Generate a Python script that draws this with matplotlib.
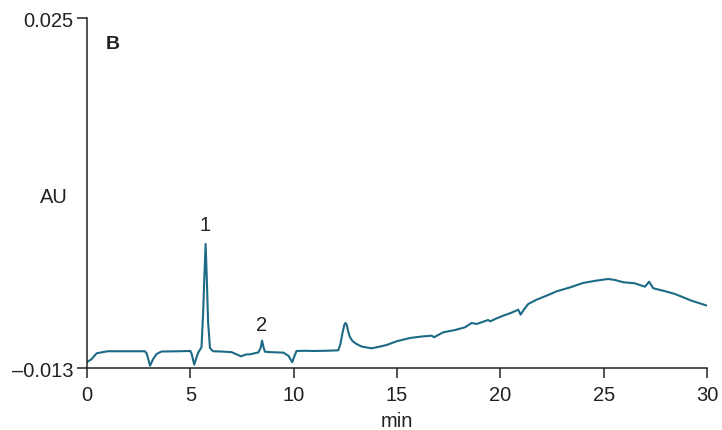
#!/usr/bin/env python3
"""Chromatogram panel B: absorbance (AU) vs retention time (min)."""
import matplotlib
matplotlib.use("Agg")
import matplotlib.pyplot as plt

# trace, (time in min, absorbance in AU)
time_min = [
    0.0, 0.2, 0.47, 1.0, 2.0, 2.8, 2.89, 3.05, 3.2, 3.37, 3.6, 4.5, 5.0, 5.06,
    5.19, 5.3, 5.39, 5.54, 5.62, 5.68, 5.74, 5.80, 5.86, 5.95, 6.1, 6.5, 7.0,
    7.2, 7.45, 7.7, 7.89, 8.29, 8.40, 8.47, 8.54, 8.61, 8.9, 9.5, 9.75, 9.93,
    10.05, 10.14, 10.5, 11.0, 11.5, 12.16, 12.26, 12.36, 12.45, 12.51, 12.57,
    12.65, 12.72, 12.85, 13.04, 13.3, 13.77, 14.17, 14.5, 14.98, 15.63, 16.2,
    16.68, 16.79, 17.24, 17.8, 18.29, 18.61, 18.85, 19.1, 19.41, 19.52, 19.8,
    20.14, 20.5, 20.87, 20.98, 21.15, 21.35, 21.76, 22.2, 22.73, 23.4, 24.0,
    24.6, 25.22, 25.54, 25.95, 26.5, 27.0, 27.2, 27.4, 28.0, 28.45, 29.25, 30.0,
]
absorbance = [
    -0.01232, -0.01205, -0.01137, -0.01115, -0.01115, -0.01115, -0.01140,
    -0.01272, -0.01200, -0.01145, -0.01118, -0.01115, -0.01112, -0.01140,
    -0.01261, -0.01180, -0.01126, -0.01072, -0.00700, -0.00300, 0.00050,
    -0.00350, -0.00800, -0.01080, -0.01115, -0.01118, -0.01125, -0.01145,
    -0.01170, -0.01150, -0.01148, -0.01128, -0.01080, -0.01000, -0.01070,
    -0.01120, -0.01125, -0.01130, -0.01165, -0.01235, -0.01160, -0.01112,
    -0.01110, -0.01112, -0.01110, -0.01105, -0.01040, -0.00920, -0.00830,
    -0.00808, -0.00830, -0.00910, -0.00960, -0.01005, -0.01036, -0.01065,
    -0.01083, -0.01065, -0.01047, -0.01007, -0.00971, -0.00955, -0.00946,
    -0.00963, -0.00909, -0.00885, -0.00855, -0.00808, -0.00819, -0.00800,
    -0.00776, -0.00790, -0.00760, -0.00729, -0.00700, -0.00664, -0.00718,
    -0.00660, -0.00602, -0.00555, -0.00515, -0.00464, -0.00420, -0.00374,
    -0.00350, -0.00330, -0.00341, -0.00366, -0.00377, -0.00414, -0.00360,
    -0.00431, -0.00465, -0.00493, -0.00566, -0.00620,
]

peak_labels = ["1", "2"]
peak_x = [5.72, 8.47]
peak_y = [0.0026, -0.0082]

x_ticks = [0, 5, 10, 15, 20, 25, 30]
y_ticks = [-0.013, 0.025]
y_tick_labels = ["\u20130.013", "0.025"]

plt.rcParams["font.family"] = ["Liberation Sans", "DejaVu Sans"]
ink = "#222222"

fig = plt.figure(figsize=(7.22, 4.31), dpi=100)
ax = fig.add_axes([0.1205, 0.1432, 0.8587, 0.812])
ax.plot(time_min, absorbance, color="#1d6a86", linewidth=1.5)

ax.set_xlim(0, 30)
ax.set_ylim(-0.013, 0.025)
ax.set_xticks(x_ticks)
ax.set_yticks(y_ticks)
ax.set_yticklabels(y_tick_labels)

for side in ("top", "right"):
    ax.spines[side].set_visible(False)
for side in ("left", "bottom"):
    ax.spines[side].set_linewidth(1.1)
    ax.spines[side].set_color(ink)
ax.tick_params(axis="x", direction="out", length=7, width=1.1, colors=ink,
               labelsize=14.5, pad=5)
ax.tick_params(axis="y", direction="out", length=7, width=1.1, colors=ink,
               labelsize=14.5, pad=3)

ax.set_xlabel("min", fontsize=14.5, color=ink)
ax.xaxis.set_label_coords(0.5, -0.148)
ax.xaxis.label.set_va("center")
ax.set_ylabel("AU", fontsize=14.5, color=ink, rotation=0, ha="center", va="center")
ax.yaxis.set_label_coords(-0.053, 0.49)

ax.text(0.042, 0.927, "B", transform=ax.transAxes, fontsize=14,
        fontweight="bold", color=ink, ha="center", va="center")
for lab, x, y in zip(peak_labels, peak_x, peak_y):
    ax.text(x, y, lab, fontsize=14.5, color=ink, ha="center", va="center")

fig.savefig("out.png", dpi=100)
